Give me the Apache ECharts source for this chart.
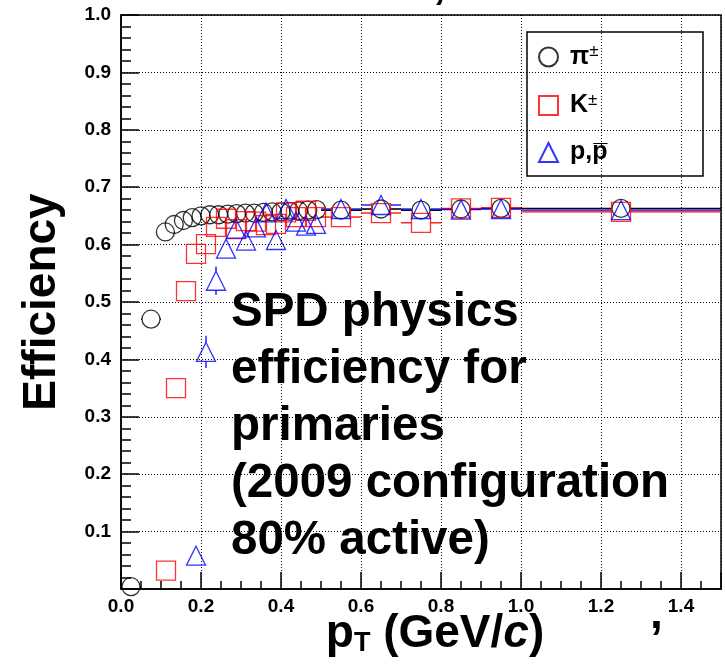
<!DOCTYPE html>
<html>
<head>
<meta charset="utf-8">
<script src="https://cdn.jsdelivr.net/npm/echarts@6/dist/echarts.min.js"></script>
<style>
html,body{margin:0;padding:0;background:#fff;}
#c{width:725px;height:666px;}
</style>
</head>
<body>
<div id="c"></div>
<script>
// ---- data ----
var xTicks = [0.0, 0.2, 0.4, 0.6, 0.8, 1.0, 1.2, 1.4];
var yTicks = [0.1, 0.2, 0.3, 0.4, 0.5, 0.6, 0.7, 0.8, 0.9, 1.0];

var pionX = [0.025, 0.075, 0.111, 0.133, 0.156, 0.178, 0.200, 0.222, 0.244, 0.267, 0.289, 0.311, 0.333, 0.356, 0.378, 0.400, 0.422, 0.444, 0.467, 0.489, 0.55, 0.65, 0.75, 0.85, 0.95, 1.25];
var pionY = [0.004, 0.470, 0.622, 0.635, 0.642, 0.647, 0.650, 0.652, 0.652, 0.653, 0.654, 0.655, 0.655, 0.656, 0.657, 0.657, 0.658, 0.659, 0.660, 0.661, 0.660, 0.662, 0.660, 0.662, 0.663, 0.663];
var pionXerr = [0.025, 0.025, 0.011, 0.011, 0.011, 0.011, 0.011, 0.011, 0.011, 0.011, 0.011, 0.011, 0.011, 0.011, 0.011, 0.011, 0.011, 0.011, 0.011, 0.011, 0.05, 0.05, 0.05, 0.05, 0.05, 0.25];
var pionYerr = [0.002, 0.01, 0.004, 0.004, 0.004, 0.004, 0.004, 0.004, 0.004, 0.004, 0.004, 0.004, 0.004, 0.004, 0.004, 0.004, 0.004, 0.004, 0.004, 0.004, 0.004, 0.004, 0.004, 0.004, 0.004, 0.003];

var kaonX = [0.1125, 0.1375, 0.1625, 0.1875, 0.2125, 0.2375, 0.2625, 0.2875, 0.3125, 0.3375, 0.3625, 0.3875, 0.4125, 0.4375, 0.4625, 0.4875, 0.55, 0.65, 0.75, 0.85, 0.95, 1.25];
var kaonY = [0.032, 0.350, 0.519, 0.584, 0.601, 0.631, 0.645, 0.627, 0.641, 0.640, 0.634, 0.636, 0.656, 0.648, 0.659, 0.648, 0.648, 0.655, 0.638, 0.663, 0.664, 0.657];
var kaonXerr = [0.0125, 0.0125, 0.0125, 0.0125, 0.0125, 0.0125, 0.0125, 0.0125, 0.0125, 0.0125, 0.0125, 0.0125, 0.0125, 0.0125, 0.0125, 0.0125, 0.05, 0.05, 0.05, 0.05, 0.05, 0.25];
var kaonYerr = [0.004, 0.01, 0.01, 0.008, 0.008, 0.007, 0.007, 0.007, 0.007, 0.007, 0.007, 0.007, 0.007, 0.007, 0.007, 0.007, 0.005, 0.005, 0.006, 0.005, 0.005, 0.004];

var protonX = [0.1875, 0.2125, 0.2375, 0.2625, 0.2875, 0.3125, 0.3375, 0.3625, 0.3875, 0.4125, 0.4375, 0.4625, 0.4875, 0.55, 0.65, 0.75, 0.85, 0.95, 1.25];
var protonY = [0.058, 0.413, 0.537, 0.593, 0.628, 0.607, 0.630, 0.656, 0.608, 0.662, 0.640, 0.633, 0.636, 0.662, 0.669, 0.662, 0.661, 0.662, 0.660];
var protonXerr = [0.0125, 0.0125, 0.0125, 0.0125, 0.0125, 0.0125, 0.0125, 0.0125, 0.0125, 0.0125, 0.0125, 0.0125, 0.0125, 0.05, 0.05, 0.05, 0.05, 0.05, 0.25];
var protonYerr = [0.006, 0.028, 0.025, 0.012, 0.01, 0.01, 0.009, 0.009, 0.009, 0.008, 0.008, 0.008, 0.008, 0.005, 0.005, 0.005, 0.005, 0.005, 0.004];

var seriesNames = ['pi', 'K', 'p'];
var annotationLines = ['SPD physics', 'efficiency for', 'primaries', '(2009 configuration', '80% active)'];

// ---- build ----
function pts(xs, ys) { return xs.map(function (x, i) { return [x, ys[i]]; }); }
function errs(xs, ys, ex, ey) { return xs.map(function (x, i) { return [x, ys[i], ex[i], ey[i]]; }); }

// error bars drawn outside the marker (ROOT style: gap where the marker sits)
function errSeries(data, color, gap, width) {
  return {
    type: 'custom',
    silent: true,
    z: 2,
    data: data,
    renderItem: function (params, api) {
      var x = api.value(0), y = api.value(1), ex = api.value(2), ey = api.value(3);
      var p = api.coord([x, y]);
      var a = api.coord([x - ex, y]), b = api.coord([x + ex, y]);
      var c = api.coord([x, y - ey]), d = api.coord([x, y + ey]);
      var st = { stroke: color, lineWidth: width };
      var kids = [];
      if (p[0] - gap > a[0]) kids.push({ type: 'line', shape: { x1: a[0], y1: p[1], x2: p[0] - gap, y2: p[1] }, style: st });
      if (b[0] > p[0] + gap) kids.push({ type: 'line', shape: { x1: p[0] + gap, y1: p[1], x2: b[0], y2: p[1] }, style: st });
      if (c[1] > p[1] + gap) kids.push({ type: 'line', shape: { x1: p[0], y1: p[1] + gap, x2: p[0], y2: c[1] }, style: st });
      if (d[1] < p[1] - gap) kids.push({ type: 'line', shape: { x1: p[0], y1: d[1], x2: p[0], y2: p[1] - gap }, style: st });
      return { type: 'group', children: kids };
    }
  };
}

var FONT = '"Liberation Sans", Arial, Helvetica, sans-serif';

var chart = echarts.init(document.getElementById('c'), null, { renderer: 'canvas' });
chart.setOption({
  backgroundColor: '#fff',
  animation: false,
  textStyle: { fontFamily: FONT },
  grid: { left: 121, right: 4, top: 15, bottom: 77, show: true, borderColor: '#000', borderWidth: 1.5, backgroundColor: 'transparent', containLabel: false, outerBoundsMode: 'none' },
  xAxis: {
    type: 'value', min: 0, max: 1.5, interval: 0.2,
    axisLine: { show: true, lineStyle: { color: '#000', width: 1.5 } },
    axisTick: { show: true, inside: true, length: 17, lineStyle: { color: '#000', width: 1.5 } },
    minorTick: { show: true, splitNumber: 4, length: 8, lineStyle: { color: '#000', width: 1.5 } },
    splitLine: { show: true, lineStyle: { color: '#000', width: 1, type: [1, 2] } },
    axisLabel: {
      color: '#000', fontSize: 19, fontWeight: 'bold', fontFamily: FONT, margin: 8, showMaxLabel: false,
      formatter: function (v) { return xTicks.some(function (t) { return Math.abs(t - v) < 1e-6; }) ? v.toFixed(1) : ''; }
    },
    name: '{p|p}{t|T}{n| (GeV/}{i|c}{n|)}',
    nameLocation: 'middle', nameGap: 22, nameMoveOverlap: false,
    nameTextStyle: {
      padding: [0, 0, 0, 28],
      rich: {
        p: { fontSize: 46, fontWeight: 'bold', color: '#000', fontFamily: FONT },
        t: { fontSize: 27, fontWeight: 'bold', color: '#000', fontFamily: FONT, verticalAlign: 'bottom' },
        n: { fontSize: 46, fontWeight: 'bold', color: '#000', fontFamily: FONT },
        i: { fontSize: 46, fontWeight: 'bold', fontStyle: 'italic', color: '#000', fontFamily: FONT }
      }
    }
  },
  yAxis: {
    type: 'value', min: 0, max: 1, interval: 0.1,
    axisLine: { show: true, lineStyle: { color: '#000', width: 1.5 } },
    axisTick: { show: true, inside: true, length: 18, lineStyle: { color: '#000', width: 1.5 } },
    minorTick: { show: true, splitNumber: 5, length: 10, lineStyle: { color: '#000', width: 1.5 } },
    splitLine: { show: true, lineStyle: { color: '#000', width: 1, type: [1, 2] } },
    axisLabel: {
      color: '#000', fontSize: 19, fontWeight: 'bold', fontFamily: FONT, margin: 10, showMinLabel: false,
      formatter: function (v) { return yTicks.some(function (t) { return Math.abs(t - v) < 1e-6; }) ? v.toFixed(1) : ''; }
    },
    name: 'Efficiency', nameLocation: 'middle', nameGap: 56, nameMoveOverlap: false,
    nameTextStyle: { fontSize: 46, fontWeight: 'bold', color: '#000', fontFamily: FONT }
  },
  legend: {
    show: true, orient: 'vertical', left: 538, top: 43, padding: 0, itemWidth: 19, itemHeight: 19, itemGap: 22,
    data: seriesNames,
    formatter: function (n) {
      if (n === 'pi') return '{a|\u03c0}{s|\u00b1}';
      if (n === 'K') return '{a|K}{s|\u00b1}';
      return '{a|p,p\u0305}';
    },
    textStyle: {
      rich: {
        a: { fontSize: 25, fontWeight: 'bold', color: '#000', fontFamily: FONT, lineHeight: 28, padding: [0, 0, 0, 7] },
        s: { fontSize: 17, color: '#000', fontFamily: FONT, lineHeight: 17, verticalAlign: 'top' }
      }
    }
  },
  graphic: [
    { type: 'rect', shape: { x: 527, y: 32, width: 176, height: 144 }, style: { fill: 'transparent', stroke: '#000', lineWidth: 1.5 }, z: 1 },
    { type: 'text', x: 231, y: 284, z: 100, style: { text: annotationLines.join('\n'), font: 'bold 47.5px ' + FONT, lineHeight: 57, fill: '#000', textVerticalAlign: 'top' } },
    { type: 'text', x: 433, y: -38, z: 100, style: { text: ',', font: 'bold 46px ' + FONT, fill: '#000' } },
    { type: 'text', x: 650, y: 592, z: 100, style: { text: ',', font: 'bold 46px ' + FONT, fill: '#000' } }
  ],
  series: [
    errSeries(errs(pionX, pionY, pionXerr, pionYerr), '#000', 9, 1.6),
    {
      name: 'pi', type: 'scatter', z: 3, data: pts(pionX, pionY), symbol: 'circle', symbolSize: 18,
      itemStyle: { color: 'rgba(0,0,0,0)', borderColor: '#000', borderWidth: 1.3 }
    },
    errSeries(errs(kaonX, kaonY, kaonXerr, kaonYerr), '#ff0000', 9.5, 1.3),
    {
      name: 'K', type: 'scatter', z: 4, data: pts(kaonX, kaonY), symbol: 'rect', symbolSize: 19,
      itemStyle: { color: 'rgba(0,0,0,0)', borderColor: '#ff0000', borderWidth: 1.3 }
    },
    errSeries(errs(protonX, protonY, protonXerr, protonYerr), '#0000ff', 9.5, 1.3),
    {
      name: 'p', type: 'scatter', z: 5, data: pts(protonX, protonY), symbol: 'triangle', symbolSize: 19,
      itemStyle: { color: 'rgba(0,0,0,0)', borderColor: '#0000ff', borderWidth: 1.3 }
    }
  ]
});
</script>
</body>
</html>
